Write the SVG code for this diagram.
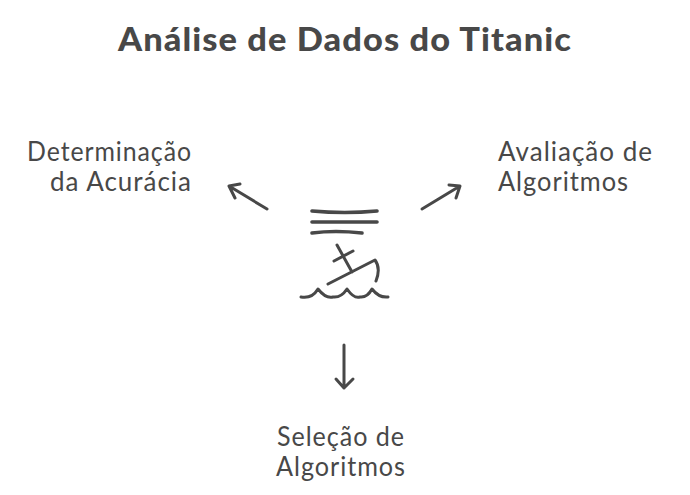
<svg xmlns="http://www.w3.org/2000/svg" width="690" height="495" viewBox="0 0 690 495">
<style>
text{font-family:"Lato","Noto Sans",sans-serif;fill:#484848;font-size:26px;letter-spacing:1px}
.t{font-size:32px;font-weight:900}
.s{fill:none;stroke:#484848;stroke-width:3;stroke-linecap:round;stroke-linejoin:round}
.b{stroke-width:3.6}
</style>
<rect width="690" height="495" fill="#ffffff"/>
<text id="title" class="t" x="118" y="51" textLength="454" lengthAdjust="spacingAndGlyphs">Análise de Dados do Titanic</text>
<g id="connectors" class="s">
<path d="M267 209L229 186M240 184L229 186L235 198"/>
<path d="M422 209L460 186M449 185L460 186L456 198"/>
<path d="M344 345L344 388M336 379L344 388L353 379"/>
</g>
<g id="center-icon">
<path class="s b" d="M312 211Q345 214 377 211M312 222L377 222M312 233Q335 230 362 233"/>
<path class="s" d="M337 245L352 272M334 261L353 251M328 284L375 260Q381 268 376 281"/>
<path class="s" d="M301 297Q312 299 318 289Q326 299 333 297Q341 298 347 289Q354 299 360 297Q367 298 372 289Q379 298 388 297"/>
</g>
<g id="determinacao">
<text x="27" y="161" textLength="165" lengthAdjust="spacingAndGlyphs">Determinação</text>
<text x="50" y="191" textLength="142" lengthAdjust="spacingAndGlyphs">da Acurácia</text>
</g>
<g id="avaliacao">
<text x="498" y="161" textLength="155" lengthAdjust="spacingAndGlyphs">Avaliação de</text>
<text x="498" y="191" textLength="131" lengthAdjust="spacingAndGlyphs">Algoritmos</text>
</g>
<g id="selecao">
<text x="277" y="446" textLength="128" lengthAdjust="spacingAndGlyphs">Seleção de</text>
<text x="276" y="476" textLength="130" lengthAdjust="spacingAndGlyphs">Algoritmos</text>
</g>
</svg>
